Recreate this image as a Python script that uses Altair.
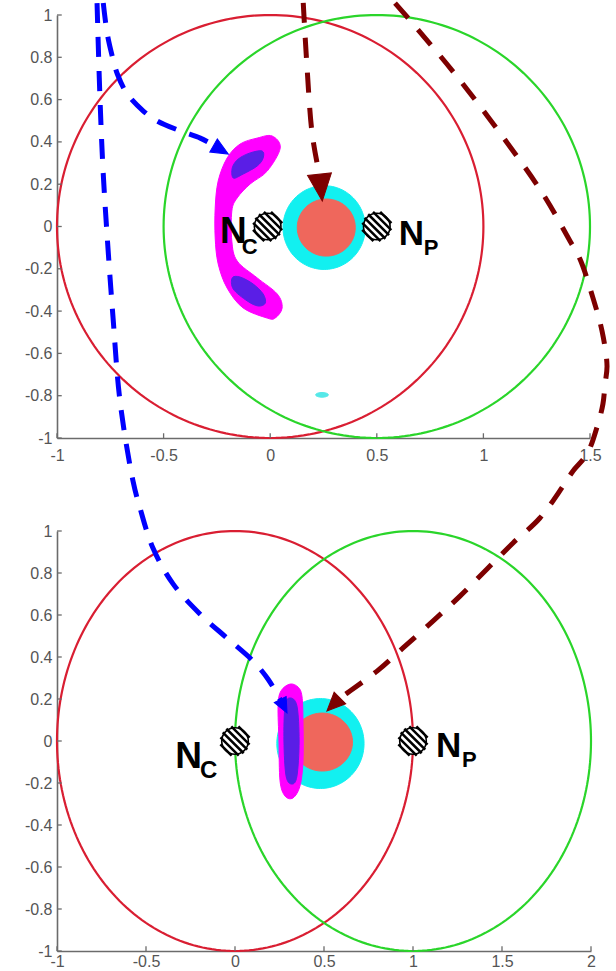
import numpy as np
import pandas as pd
import altair as alt

FONT = "Liberation Sans"

# ---------------- axes
top_x_ticks = [-1, -0.5, 0, 0.5, 1, 1.5]
bot_x_ticks = [-1, -0.5, 0, 0.5, 1, 1.5, 2]
y_ticks = [-1, -0.8, -0.6, -0.4, -0.2, 0, 0.2, 0.4, 0.6, 0.8, 1]
top_x_domain = [-1, 1.5]
bot_x_domain = [-1, 2]
y_domain = [-1, 1]

# ---------------- circles (radius 1)
circle_r = 1.0
top_red_c = [0.0, 0.0]
top_green_c = [0.5, 0.0]
bot_red_c = [0.0, 0.0]
bot_green_c = [1.0, 0.0]

# ---------------- nodes
top_node_x = [-0.012, 0.5]
bot_node_x = [0.0, 1.0]
node_y = [0.0, 0.0]
node_main = ["N", "N"]
node_sub = ["C", "P"]

# ---------------- disks [cx, cy, rx, ry]
top_cyan = [0.253, -0.005, 0.193, 0.198]
top_salmon = [0.263, -0.005, 0.136, 0.135]
top_cyan_spot = [0.243, -0.796, 0.03, 0.011]
bot_cyan = [0.48, -0.012, 0.245, 0.214]
bot_salmon = [0.49, -0.005, 0.17, 0.138]

# ---------------- blobs (outlines)
top_mag_x = [0.009, 0.047, -0.014, -0.094, -0.155, -0.180, -0.180, -0.155, -0.061, 0.033, 0.056,
             0.023, -0.014, -0.127, -0.202, -0.244, -0.258, -0.258, -0.244, -0.202, -0.141, -0.061]
top_mag_y = [0.428, 0.371, 0.262, 0.201, 0.135, 0.073, -0.069, -0.163, -0.243, -0.319, -0.385,
             -0.433, -0.433, -0.385, -0.291, -0.177, -0.054, 0.087, 0.215, 0.324, 0.390, 0.418]
top_blue_a_x = [-0.173, -0.178, -0.150, -0.094, -0.038, -0.033, -0.061, -0.127]
top_blue_a_y = [0.229, 0.277, 0.319, 0.348, 0.357, 0.324, 0.286, 0.248]
top_blue_b_x = [-0.178, -0.141, -0.080, -0.033, -0.023, -0.056, -0.108, -0.173]
top_blue_b_y = [-0.243, -0.239, -0.272, -0.319, -0.362, -0.376, -0.352, -0.296]

bot_mag_x = [0.309, 0.354, 0.376, 0.382, 0.382, 0.365, 0.326, 0.281, 0.253, 0.247, 0.242, 0.258]
bot_mag_y = [0.271, 0.257, 0.214, 0.095, -0.095, -0.214, -0.271, -0.262, -0.190, 0.0, 0.167, 0.238]
bot_blue_x = [0.309, 0.348, 0.360, 0.348, 0.320, 0.287, 0.275, 0.281]
bot_blue_y = [0.205, 0.167, 0.0, -0.167, -0.205, -0.167, 0.0, 0.167]

# ---------------- arrows
blue1_x = [-0.783, -0.764, -0.741, -0.717, -0.670, -0.595, -0.530, -0.422, -0.328, -0.267]
blue1_y = [1.057, 0.910, 0.806, 0.721, 0.626, 0.546, 0.499, 0.452, 0.418, 0.385]
blue1_head = [-0.235, 0.365]
red1_x = [0.155, 0.173, 0.197, 0.230]
red1_y = [1.057, 0.749, 0.437, 0.248]
red1_head = [0.237, 0.191]

blue2_x = [-0.775, -0.770, -0.758, -0.742, -0.719, -0.685, -0.646, -0.573, -0.534, -0.461,
           -0.348, -0.197, -0.045, 0.101, 0.185, 0.254]
blue2_y = [3.514, 3.367, 3.048, 2.729, 2.414, 2.014, 1.619, 1.238, 1.110, 0.919,
           0.748, 0.605, 0.490, 0.381, 0.295, 0.197]
blue2_head = [0.271, 0.169]
red2_x = [0.899, 0.972, 1.236, 1.489, 1.730, 1.882, 1.938, 2.011, 2.062, 2.090, 2.079, 2.067,
          2.039, 1.978, 1.899, 1.843, 1.713, 1.562, 1.416, 1.264, 1.112, 0.944, 0.798, 0.646, 0.590]
red2_y = [3.514, 3.443, 3.176, 2.895, 2.605, 2.381, 2.295, 2.110, 1.952, 1.786, 1.700, 1.605,
          1.510, 1.367, 1.286, 1.214, 1.062, 0.943, 0.819, 0.690, 0.571, 0.443, 0.333, 0.238, 0.205]
red2_head = [0.557, 0.177]

# ---------------- styles
RED = "#d91e32"
GREEN = "#2ad52a"
MAGENTA = "#ff00ff"
VIOLET = "#5a1ee6"
CYAN = "#12f0f0"
SALMON = "#ef675c"
ABLUE = "#0000ff"
ADRED = "#7d0000"
AXIS = "#6b6b6b"
LABEL = "#555555"
ARROW_PATH = "M0,-1L-0.8,0.8L0.8,0.8Z"


def hatch_path(cs):
    parts = []
    for c in cs:
        d = np.sqrt(2 - c * c)
        x1 = (-c - d) / 2
        x2 = (-c + d) / 2
        parts.append(f"M{x1:.3f},{x1 + c:.3f}L{x2:.3f},{x2 + c:.3f}")
    return "".join(parts)


HATCH = hatch_path([-1.2, -0.72, -0.24, 0.24, 0.72, 1.2])


def ellipse_df(c, n=120):
    t = np.linspace(0, 2 * np.pi, n, endpoint=False)
    return pd.DataFrame({"x": c[0] + c[2] * np.cos(t), "y": c[1] + c[3] * np.sin(t), "i": np.arange(n)})


def poly_df(xs, ys):
    return pd.DataFrame({"x": xs, "y": ys, "i": np.arange(len(xs))})


def make_panel(xdom, xticks, width, height, xlabpad, red_c, green_c, node_x,
               fills, arrows, heads, texts):
    xs = alt.Scale(domain=xdom, nice=False, zero=False)
    ys = alt.Scale(domain=y_domain, nice=False, zero=False)
    xax = alt.Axis(values=xticks, ticks=False, tickSize=0, grid=False, domainColor=AXIS,
                   domainWidth=1.6, labelFont=FONT, labelFontSize=16, labelColor=LABEL,
                   labelPadding=xlabpad, labelExpr="'' + datum.value", labelFlush=False,
                   labelOverlap=False, title=None)
    yax = alt.Axis(values=y_ticks, ticks=False, tickSize=0, grid=False, domainColor=AXIS,
                   domainWidth=1.6, labelFont=FONT, labelFontSize=16, labelColor=LABEL,
                   labelPadding=5, labelExpr="'' + datum.value", labelFlush=False,
                   labelOverlap=False, title=None)

    def enc(**kw):
        return dict(x=alt.X("x:Q", scale=xs, axis=xax), y=alt.Y("y:Q", scale=ys, axis=yax), **kw)

    layers = []
    for c, col in ((red_c, RED), (green_c, GREEN)):
        layers.append(alt.Chart(ellipse_df([c[0], c[1], circle_r, circle_r], 240))
                      .mark_line(interpolate="linear-closed", stroke=col, strokeWidth=2.2)
                      .encode(**enc(order="i:Q")))
    for df, col, interp in fills:
        layers.append(alt.Chart(df).mark_line(interpolate=interp, fill=col, stroke=col,
                                              strokeWidth=1)
                      .encode(**enc(order="i:Q")))
    xt = pd.DataFrame({"x": xticks, "y": [y_domain[0]] * len(xticks)})
    layers.append(alt.Chart(xt).mark_point(shape="M0,0V-1", size=90, filled=False,
                                           stroke=AXIS, strokeWidth=1.3, opacity=1)
                  .encode(**enc()))
    yt = pd.DataFrame({"x": [xdom[0]] * len(y_ticks), "y": y_ticks})
    layers.append(alt.Chart(yt).mark_point(shape="M0,0H1", size=90, filled=False,
                                           stroke=AXIS, strokeWidth=1.3, opacity=1)
                  .encode(**enc()))
    nd = pd.DataFrame({"x": node_x, "y": node_y, "main": node_main, "sub": node_sub})
    layers.append(alt.Chart(nd).mark_point(shape="circle", size=707, filled=True, fill="white",
                                           stroke="black", strokeWidth=1.6, opacity=1)
                  .encode(**enc()))
    layers.append(alt.Chart(nd).mark_point(shape=HATCH, size=900, filled=False,
                                           stroke="black", strokeWidth=2.5, opacity=1)
                  .encode(**enc()))
    for k, (field, size, align, dx, dy) in enumerate(texts):
        idx = 0 if k < 2 else 1
        layers.append(alt.Chart(nd.iloc[[idx]]).mark_text(
            font=FONT, fontWeight="bold", fontSize=size, align=align, baseline="alphabetic",
            dx=dx, dy=dy, color="black").encode(**enc(text=f"{field}:N")))
    for df, col, dash in arrows:
        layers.append(alt.Chart(df).mark_line(interpolate="catmull-rom", stroke=col,
                                              strokeWidth=5, strokeDash=dash, strokeJoin="round",
                                              clip=False)
                      .encode(**enc(order="i:Q")))
    for pos, col, ang, size in heads:
        hd = pd.DataFrame({"x": [pos[0]], "y": [pos[1]]})
        layers.append(alt.Chart(hd).mark_point(shape=ARROW_PATH, size=size, angle=ang,
                                               filled=True, fill=col, stroke=col, strokeWidth=1,
                                               opacity=1, clip=False)
                      .encode(**enc()))
    return alt.layer(*layers).properties(width=width, height=height)


top = make_panel(
    top_x_domain, top_x_ticks, 533, 423, 9, top_red_c, top_green_c, top_node_x,
    fills=[
        (poly_df(top_mag_x, top_mag_y), MAGENTA, "cardinal-closed"),
        (poly_df(top_blue_a_x, top_blue_a_y), VIOLET, "cardinal-closed"),
        (poly_df(top_blue_b_x, top_blue_b_y), VIOLET, "cardinal-closed"),
        (ellipse_df(top_cyan), CYAN, "linear-closed"),
        (ellipse_df(top_salmon), SALMON, "linear-closed"),
        (ellipse_df(top_cyan_spot, 40), "#55e8e8", "linear-closed"),
    ],
    arrows=[
        (poly_df(blue1_x, blue1_y), ABLUE, [20, 14]),
        (poly_df(red1_x, red1_y), ADRED, [20, 15]),
    ],
    heads=[
        (blue1_head, ABLUE, 120, 357),
        (red1_head, ADRED, 174, 900),
    ],
    texts=[
        ("main", 37, "right", -21, 16),
        ("sub", 22, "left", -26, 27),
        ("main", 35, "left", 22, 18),
        ("sub", 22, "left", 47, 28),
    ],
)

bottom = make_panel(
    bot_x_domain, bot_x_ticks, 534, 420, 2, bot_red_c, bot_green_c, bot_node_x,
    fills=[
        (ellipse_df(bot_cyan), CYAN, "linear-closed"),
        (ellipse_df(bot_salmon), SALMON, "linear-closed"),
        (poly_df(bot_mag_x, bot_mag_y), MAGENTA, "cardinal-closed"),
        (poly_df(bot_blue_x, bot_blue_y), VIOLET, "cardinal-closed"),
    ],
    arrows=[
        (poly_df(blue2_x, blue2_y), ABLUE, [20, 14]),
        (poly_df(red2_x, red2_y), ADRED, [20, 15]),
    ],
    heads=[
        (blue2_head, ABLUE, 153, 278),
        (red2_head, ADRED, 225, 420),
    ],
    texts=[
        ("main", 37, "right", -33, 27),
        ("sub", 24, "left", -35, 37),
        ("main", 35, "left", 23, 16),
        ("sub", 22, "left", 49, 26),
    ],
)

chart = alt.vconcat(top, bottom, spacing=93, bounds="flush").properties(
    padding={"left": 24, "top": 0, "right": 0, "bottom": 0},
    background="white",
).configure_view(strokeWidth=0)

chart.save("out.html", embed_options={"renderer": "svg", "actions": False})
